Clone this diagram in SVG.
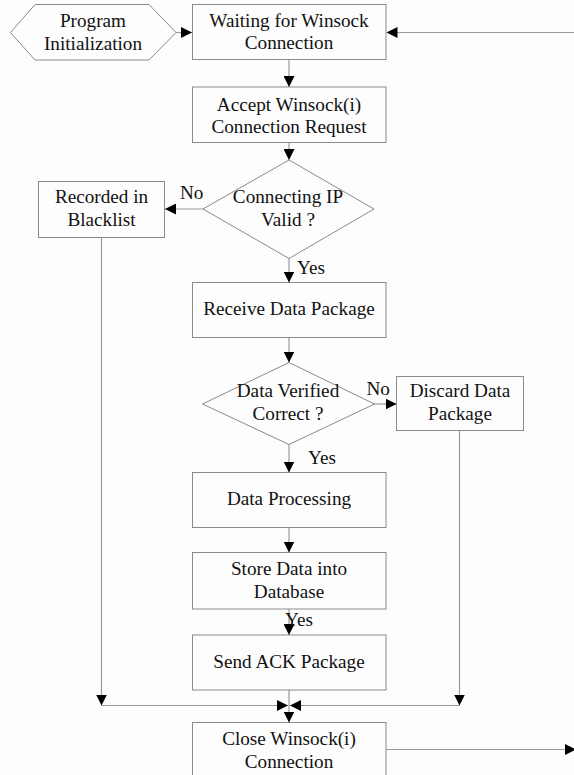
<svg xmlns="http://www.w3.org/2000/svg" width="574" height="775" viewBox="0 0 574 775">
<style>
.bg{fill:#fdfdfd}
.box{fill:none;stroke:#8a8a8a;stroke-width:1}
.ln{fill:none;stroke:#9a9a9a;stroke-width:1.2}
.t{font-family:"Liberation Serif","Times New Roman",serif;font-size:19.2px;fill:#111;text-anchor:middle}
.l{font-family:"Liberation Serif","Times New Roman",serif;font-size:19.2px;fill:#111}
</style>
<defs>
<marker id="ah" markerUnits="userSpaceOnUse" markerWidth="11" markerHeight="11" refX="10" refY="5" orient="auto" viewBox="0 0 10 10">
<path d="M0,0 L10,5 L0,10 z" fill="#000"/>
</marker>
</defs>
<rect class="bg" x="0" y="0" width="574" height="775"/>

<g id="connectors">
<path class="ln" d="M176,32.5 H192" marker-end="url(#ah)"/>
<path class="ln" d="M574,32.5 H386.5" marker-end="url(#ah)"/>
<path class="ln" d="M289,60 V87" marker-end="url(#ah)"/>
<path class="ln" d="M289,142.5 V160" marker-end="url(#ah)"/>
<path class="ln" d="M203,209 H165" marker-end="url(#ah)"/>
<path class="ln" d="M289,258.5 V282.5" marker-end="url(#ah)"/>
<path class="ln" d="M289,337.5 V362.5" marker-end="url(#ah)"/>
<path class="ln" d="M374.5,404 H396.5" marker-end="url(#ah)"/>
<path class="ln" d="M289,444.5 V472.5" marker-end="url(#ah)"/>
<path class="ln" d="M289,527.5 V552.5" marker-end="url(#ah)"/>
<path class="ln" d="M289,609 V635" marker-end="url(#ah)"/>
<path class="ln" d="M101.5,237.5 V705.5" marker-end="url(#ah)"/>
<path class="ln" d="M101.5,705.5 H288" marker-end="url(#ah)"/>
<path class="ln" d="M459.5,430.5 V705.5" marker-end="url(#ah)"/>
<path class="ln" d="M459.5,705.5 H290" marker-end="url(#ah)"/>
<path class="ln" d="M289,690 V722.5" marker-end="url(#ah)"/>
<path class="ln" d="M386,749.5 H576" marker-end="url(#ah)"/>
</g>

<g id="init">
<polygon class="box" points="10.5,32.5 35,4.5 149,4.5 176,32.5 149,60 35,60"/>
<text class="t" x="93" y="26.5">Program</text>
<text class="t" x="93" y="49.5">Initialization</text>
</g>
<g id="waiting">
<rect class="box" x="192.5" y="4.5" width="193.5" height="55"/>
<text class="t" x="289" y="26.5">Waiting for Winsock</text>
<text class="t" x="289" y="49">Connection</text>
</g>
<g id="accept">
<rect class="box" x="192.5" y="87" width="193.5" height="55.5"/>
<text class="t" x="289" y="110.5">Accept Winsock(i)</text>
<text class="t" x="289" y="133">Connection Request</text>
</g>
<g id="ipvalid">
<polygon class="box" points="289,160 374,209 289,258.5 203,209"/>
<text class="t" x="288" y="203">Connecting IP</text>
<text class="t" x="288" y="226">Valid ?</text>
</g>
<g id="blacklist">
<rect class="box" x="38.5" y="181.5" width="126" height="56"/>
<text class="t" x="101.5" y="203">Recorded in</text>
<text class="t" x="101.5" y="226">Blacklist</text>
</g>
<g id="receive">
<rect class="box" x="192.5" y="282.5" width="193.5" height="55"/>
<text class="t" x="289" y="315">Receive Data Package</text>
</g>
<g id="verified">
<polygon class="box" points="289,362.5 374.5,404 289,444.5 202.5,404"/>
<text class="t" x="288" y="396.5">Data Verified</text>
<text class="t" x="288" y="420">Correct ?</text>
</g>
<g id="discard">
<rect class="box" x="396.5" y="376.5" width="127" height="54"/>
<text class="t" x="460" y="396.5">Discard Data</text>
<text class="t" x="460" y="420">Package</text>
</g>
<g id="processing">
<rect class="box" x="192.5" y="472.5" width="193.5" height="55"/>
<text class="t" x="289" y="505">Data Processing</text>
</g>
<g id="store">
<rect class="box" x="192.5" y="552.5" width="193.5" height="56.5"/>
<text class="t" x="289" y="575">Store Data into</text>
<text class="t" x="289" y="598">Database</text>
</g>
<g id="send">
<rect class="box" x="192.5" y="635" width="193.5" height="55"/>
<text class="t" x="289" y="668">Send ACK Package</text>
</g>
<g id="close">
<rect class="box" x="192.5" y="722.5" width="193.5" height="80"/>
<text class="t" x="289" y="745">Close Winsock(i)</text>
<text class="t" x="289" y="768">Connection</text>
</g>

<g id="labels">
<text class="l" x="180" y="199">No</text>
<text class="l" x="297" y="274">Yes</text>
<text class="l" x="366.5" y="395">No</text>
<text class="l" x="308" y="464">Yes</text>
<text class="l" x="285" y="626">Yes</text>
</g>
</svg>
